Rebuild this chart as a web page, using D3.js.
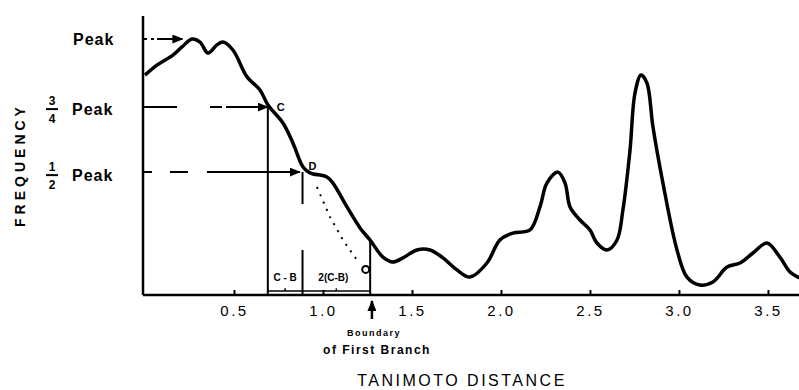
<!DOCTYPE html>
<html>
<head>
<meta charset="utf-8">
<script src="https://cdn.jsdelivr.net/npm/d3@7"></script>
<style>
  body { margin: 0; background: #fff; }
  text { font-family: "Liberation Sans", Arial, sans-serif; fill: #000; }
</style>
</head>
<body>
<div id="chart"></div>
<script>
// Tanimoto distance (x) against frequency (fraction of the first peak)
const distance = [0.0, 0.067, 0.157, 0.208, 0.264, 0.309, 0.354, 0.404, 0.438, 0.494,
  0.573, 0.646, 0.691, 0.775, 0.831, 0.888, 0.927, 1.022, 1.056, 1.135,
  1.208, 1.264, 1.337, 1.393, 1.449, 1.528, 1.601, 1.674, 1.753, 1.826,
  1.921, 1.994, 2.067, 2.163, 2.219, 2.258, 2.320, 2.360, 2.388, 2.444,
  2.500, 2.539, 2.596, 2.652, 2.685, 2.725, 2.753, 2.787, 2.820, 2.854,
  2.910, 2.989, 3.045, 3.118, 3.191, 3.270, 3.343, 3.416, 3.494, 3.567,
  3.624, 3.680];
const frequency = [0.859, 0.898, 0.937, 0.969, 1.0, 0.988, 0.945, 0.977, 0.988, 0.957,
  0.852, 0.801, 0.742, 0.672, 0.594, 0.500, 0.477, 0.461, 0.437, 0.344,
  0.262, 0.215, 0.148, 0.129, 0.145, 0.176, 0.176, 0.145, 0.098, 0.070,
  0.125, 0.215, 0.242, 0.254, 0.344, 0.437, 0.480, 0.437, 0.344, 0.293,
  0.254, 0.203, 0.176, 0.215, 0.332, 0.566, 0.789, 0.859, 0.828, 0.656,
  0.437, 0.176, 0.070, 0.039, 0.051, 0.109, 0.125, 0.164, 0.203, 0.148,
  0.090, 0.066];

const xTicks = [0.5, 1.0, 1.5, 2.0, 2.5, 3.0, 3.5];

// reference levels on the frequency axis
const levelNames = ["Peak", "3/4", "1/2"];
const levelValues = [1.0, 0.734, 0.48];
const levelArrowEnds = [0.21, 0.69, 0.87];

// points used in the construction
const pointC = 0.69;
const pointD = 0.885;
const boundary = 1.265;
const dottedX = [0.966, 1.039, 1.112, 1.19];
const dottedY = [0.422, 0.305, 0.215, 0.137];

const width = 799, height = 390;

const svg = d3.select("#chart").append("svg")
  .attr("width", width)
  .attr("height", height)
  .style("background", "#fff");

const x = d3.scaleLinear().domain([0, 3.68]).range([145, 800]);
const y = d3.scaleLinear().domain([0, 1]).range([295, 39]);

const defs = svg.append("defs");
defs.append("marker")
  .attr("id", "arrow")
  .attr("markerUnits", "userSpaceOnUse")
  .attr("markerWidth", 11).attr("markerHeight", 9)
  .attr("refX", 10).attr("refY", 4.5)
  .attr("orient", "auto")
  .append("path")
  .attr("d", "M0,0 L11,4.5 L0,9 Z")
  .attr("fill", "#000");

// y axis (plain line, no ticks)
svg.append("line")
  .attr("x1", 143).attr("x2", 143)
  .attr("y1", y(1.09)).attr("y2", y(0))
  .attr("stroke", "#000").attr("stroke-width", 2.5);

// x axis
const axisX = svg.append("g")
  .attr("transform", "translate(0," + y(0) + ")")
  .call(d3.axisBottom(x)
    .tickValues(xTicks)
    .tickFormat(d3.format(".1f"))
    .tickSize(-5)
    .tickSizeOuter(0)
    .tickPadding(10));
axisX.select(".domain").attr("stroke", "#000").attr("stroke-width", 2.5)
  .attr("d", "M143,0H799");
axisX.selectAll("line").attr("stroke", "#000").attr("stroke-width", 2);
axisX.selectAll("text")
  .style("font-size", "15px")
  .style("letter-spacing", "2.5px")
  .attr("fill", "#000");

// frequency curve
const line = d3.line()
  .x(d => x(d[0]))
  .y(d => y(d[1]))
  .curve(d3.curveCatmullRom.alpha(0.5));

svg.append("path")
  .datum(d3.zip(distance, frequency))
  .attr("fill", "none")
  .attr("stroke", "#000")
  .attr("stroke-width", 3.5)
  .attr("stroke-linejoin", "round")
  .attr("d", line);

// horizontal arrows from the axis to the curve
const dashes = ["4,4,3,3,400", "34,33,12,4,400", "9,18,18,19,400"];
levelValues.forEach((v, i) => {
  svg.append("line")
    .attr("x1", 143).attr("x2", x(levelArrowEnds[i]))
    .attr("y1", y(v)).attr("y2", y(v))
    .attr("stroke", "#000").attr("stroke-width", 2)
    .attr("stroke-dasharray", dashes[i])
    .attr("marker-end", "url(#arrow)");
});

// level labels
levelNames.forEach((name, i) => {
  const g = svg.append("g").attr("transform", "translate(0," + y(levelValues[i]) + ")");
  if (name === "Peak") {
    g.append("text").attr("x", 73).attr("y", 6)
      .style("font-size", "16px").style("font-weight", "bold").style("letter-spacing", "1px")
      .text("Peak");
  } else {
    const parts = name.split("/");
    const dy = i === 1 ? 2 : 3;
    g.append("text").attr("x", 52).attr("y", dy - 4).attr("text-anchor", "middle")
      .style("font-size", "12px").style("font-weight", "bold").text(parts[0]);
    g.append("line").attr("x1", 46).attr("x2", 58).attr("y1", dy).attr("y2", dy)
      .attr("stroke", "#000").attr("stroke-width", 2);
    g.append("text").attr("x", 52).attr("y", dy + 14).attr("text-anchor", "middle")
      .style("font-size", "12px").style("font-weight", "bold").text(parts[1]);
    g.append("text").attr("x", 72).attr("y", dy + 6)
      .style("font-size", "16px").style("font-weight", "bold").style("letter-spacing", "1px")
      .text("Peak");
  }
});

// C and D markers
svg.append("line")
  .attr("x1", x(pointC)).attr("x2", x(pointC))
  .attr("y1", y(levelValues[1])).attr("y2", y(0))
  .attr("stroke", "#000").attr("stroke-width", 2);
svg.append("text").attr("x", x(pointC) + 9).attr("y", y(levelValues[1]) + 4)
  .style("font-size", "11px").style("font-weight", "bold").text("C");

svg.append("line")
  .attr("x1", x(pointD)).attr("x2", x(pointD))
  .attr("y1", y(levelValues[2])).attr("y2", y(0))
  .attr("stroke", "#000").attr("stroke-width", 2)
  .attr("stroke-dasharray", "32,46,200");
svg.append("text").attr("x", x(pointD) + 6).attr("y", y(levelValues[2]) - 2)
  .style("font-size", "11px").style("font-weight", "bold").text("D");

// dotted extrapolation
svg.append("path")
  .datum(d3.zip(dottedX, dottedY))
  .attr("fill", "none")
  .attr("stroke", "#000")
  .attr("stroke-width", 2)
  .attr("stroke-dasharray", "2,6")
  .attr("d", d3.line().x(d => x(d[0])).y(d => y(d[1])));
svg.append("circle")
  .attr("cx", x(1.24)).attr("cy", y(0.1)).attr("r", 3.5)
  .attr("fill", "none").attr("stroke", "#000").attr("stroke-width", 2);

// boundary line up to the curve
const fAtBoundary = 0.215;
svg.append("line")
  .attr("x1", x(boundary)).attr("x2", x(boundary))
  .attr("y1", y(fAtBoundary)).attr("y2", y(0))
  .attr("stroke", "#000").attr("stroke-width", 2);

// brackets C-B and 2(C-B)
svg.append("line")
  .attr("x1", x(pointC)).attr("x2", x(boundary))
  .attr("y1", y(0.016)).attr("y2", y(0.016))
  .attr("stroke", "#000").attr("stroke-width", 1.5);
[(pointC + pointD) / 2, (pointD + boundary) / 2].forEach(m => {
  svg.append("line")
    .attr("x1", x(m)).attr("x2", x(m))
    .attr("y1", y(0.016)).attr("y2", y(0.026))
    .attr("stroke", "#000").attr("stroke-width", 1.5);
});
svg.append("text").attr("x", x((pointC + pointD) / 2)).attr("y", y(0.055))
  .attr("text-anchor", "middle")
  .style("font-size", "10px").style("font-weight", "bold").text("C - B");
svg.append("text").attr("x", x((pointD + boundary) / 2) - 3).attr("y", y(0.055))
  .attr("text-anchor", "middle")
  .style("font-size", "10px").style("font-weight", "bold").text("2(C-B)");

// boundary arrow under the axis
svg.append("line")
  .attr("x1", x(1.275)).attr("x2", x(1.275))
  .attr("y1", 319).attr("y2", 301)
  .attr("stroke", "#000").attr("stroke-width", 2.5)
  .attr("marker-end", "url(#arrow)");
svg.append("text").attr("x", 374).attr("y", 336).attr("text-anchor", "middle")
  .style("font-size", "9px").style("font-weight", "bold").style("letter-spacing", "1.5px")
  .text("Boundary");
svg.append("text").attr("x", 377).attr("y", 354).attr("text-anchor", "middle")
  .style("font-size", "12px").style("font-weight", "bold").style("letter-spacing", "1.5px")
  .text("of First Branch");

// axis titles
svg.append("text")
  .attr("x", 462).attr("y", 386)
  .attr("text-anchor", "middle")
  .style("font-size", "16px").style("letter-spacing", "2.5px")
  .text("TANIMOTO DISTANCE");

svg.append("text")
  .attr("transform", "translate(25,165) rotate(-90)")
  .attr("text-anchor", "middle")
  .style("font-size", "14px").style("font-weight", "bold").style("letter-spacing", "4px")
  .text("FREQUENCY");
</script>
</body>
</html>
